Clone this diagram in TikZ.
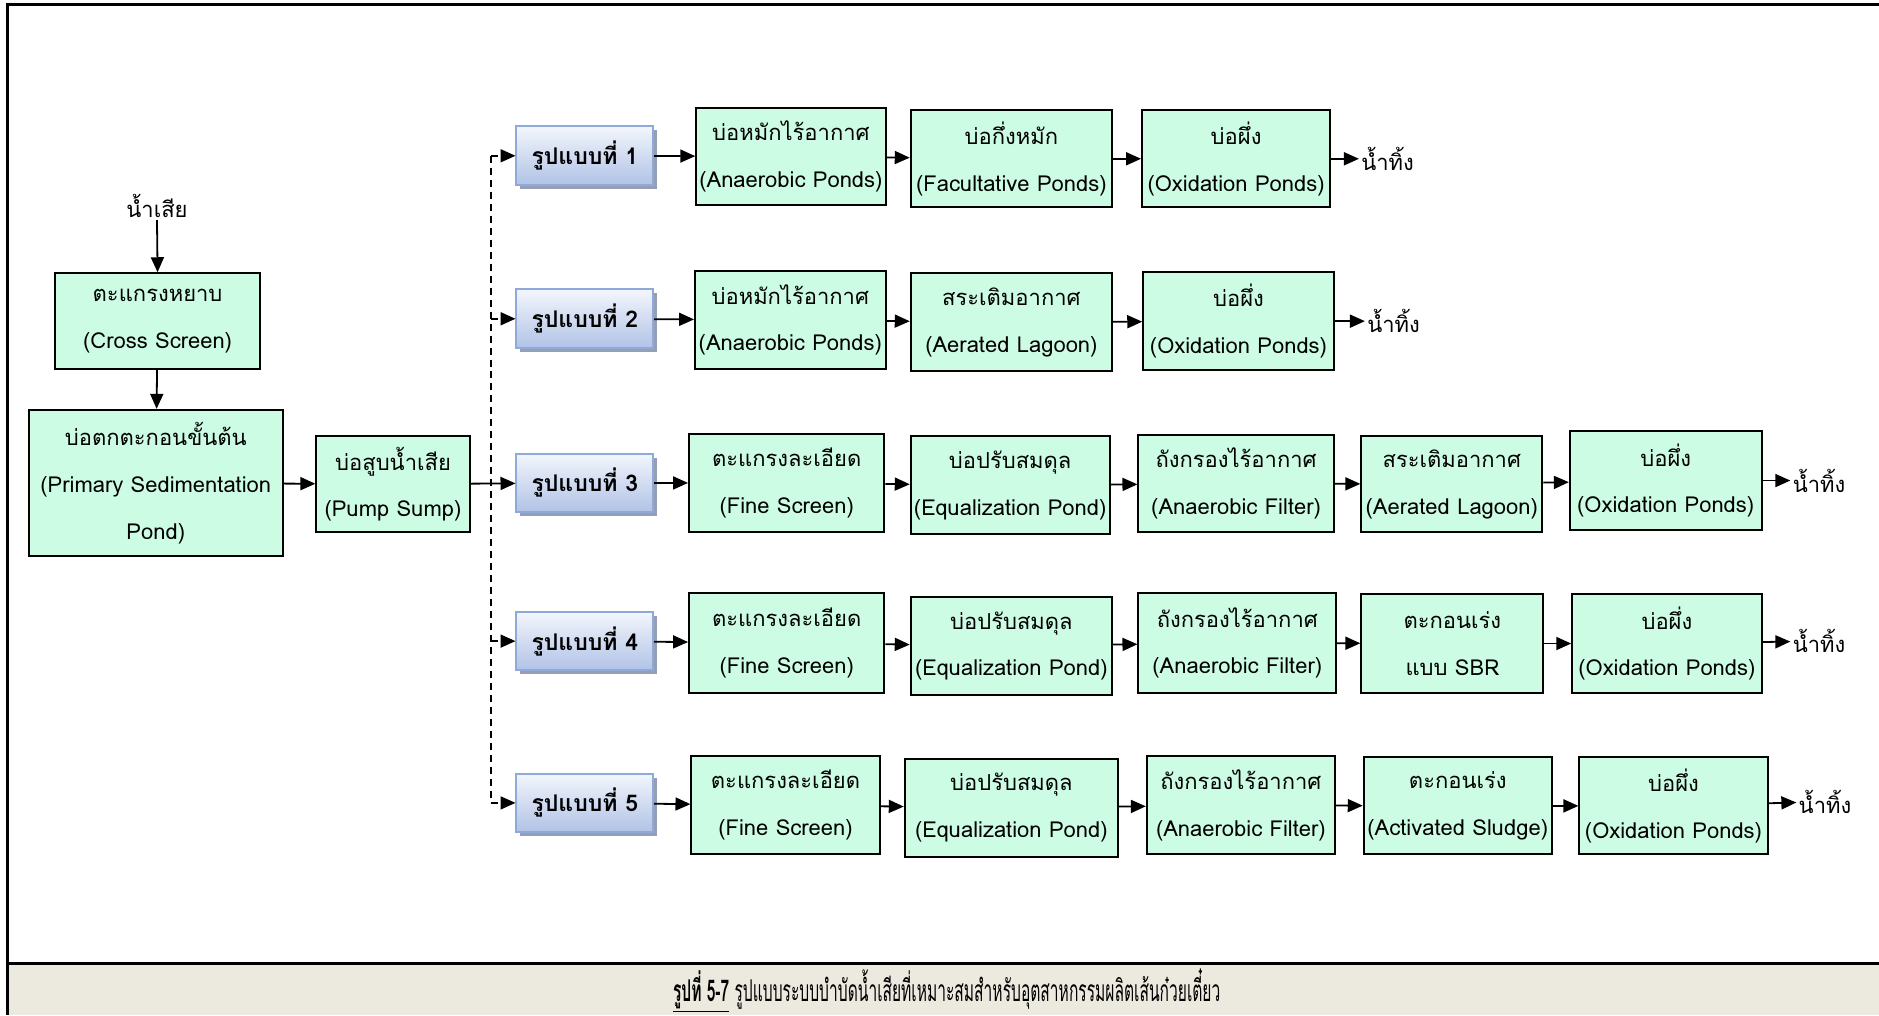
\documentclass[tikz,border=0pt]{standalone}
\usepackage{fontspec}
\usepackage{graphicx}
\setmainfont[Script=Thai]{Loma}
\usetikzlibrary{arrows.meta,shadows}

\definecolor{pond}{RGB}{205,252,228}
\definecolor{captionbg}{RGB}{236,233,223}
\definecolor{patborder}{RGB}{141,170,219}
\definecolor{pattop}{RGB}{243,246,252}
\definecolor{patbot}{RGB}{176,194,230}
\definecolor{patshadow}{RGB}{150,158,182}

\tikzset{
  box/.style={draw=black, line width=1pt, fill=pond, align=center, inner sep=0pt,
    font=\fontsize{11}{23.4}\selectfont},
  sz/.style 2 args={minimum width=#1*0.6pt, minimum height=#2*0.6pt},
  pat/.style={draw=patborder, line width=1pt, top color=pattop, bottom color=patbot,
    font=\bfseries\fontsize{11.5}{13}\selectfont, inner sep=0pt,
    minimum width=114*0.6pt, minimum height=49*0.6pt,
    drop shadow={shadow xshift=2pt, shadow yshift=-2pt, fill=patshadow, opacity=1}},
  lbl/.style={inner sep=1pt, font=\fontsize{11}{13}\selectfont},
  arr/.style={line width=0.9pt, -{Triangle[length=7.5pt,width=6.5pt]}},
  dsh/.style={line width=0.9pt, dash pattern=on 3.5pt off 2.5pt},
  frame/.style={line width=1.6pt, black}
}

\begin{document}
\begin{tikzpicture}[x=0.6pt, y=-0.6pt]
\useasboundingbox (0,0) rectangle (1568,847);
\clip (0,0) rectangle (1568,847);

% page frame and caption band
\fill[captionbg] (6,804) rectangle (1568,847);
\draw[frame] (1568,4) -- (6,4) -- (6,847);
\draw[frame] (6,804) -- (1568,804);

% incoming line
\node[lbl] (nam) at (131,172) {น้ำเสีย};
\node[box, sz={171}{80}] (cross) at (131.5,268) {ตะแกรงหยาบ\\(Cross Screen)};
\node[box, sz={212}{122}] (prim) at (130,403) {บ่อตกตะกอนขั้นต้น\\(Primary Sedimentation\\Pond)};
\node[box, sz={128}{80}] (pump) at (328,404) {บ่อสูบน้ำเสีย\\(Pump Sump)};

\draw[arr] (nam.south) -- (cross.north);
\draw[arr] (cross) -- (prim);
\draw[arr] (prim) -- (pump);

% treatment options
\node[pat] (p1) at (488,130) {รูปแบบที่ 1};
\node[pat] (p2) at (488,266) {รูปแบบที่ 2};
\node[pat] (p3) at (488,403) {รูปแบบที่ 3};
\node[pat] (p4) at (488,535) {รูปแบบที่ 4};
\node[pat] (p5) at (488,670) {รูปแบบที่ 5};

\coordinate (j1) at (410,130);
\coordinate (j2) at (410,266);
\coordinate (j4) at (410,535);
\coordinate (j5) at (410,670);
\draw[dsh] (j1) -- (j5);
\draw[arr] (pump) -- (p3);
\draw[dsh, arr] (j1) -- (p1);
\draw[dsh, arr] (j2) -- (p2);
\draw[dsh, arr] (j4) -- (p4);
\draw[dsh, arr] (j5) -- (p5);

% option 1
\node[box, sz={158}{81}] (a1) at (660,130.5) {บ่อหมักไร้อากาศ\\(Anaerobic Ponds)};
\node[box, sz={168}{81}] (b1) at (844,132.5) {บ่อกึ่งหมัก\\(Facultative Ponds)};
\node[box, sz={157}{81}] (c1) at (1031.5,132.5) {บ่อผึ่ง\\(Oxidation Ponds)};
\node[lbl, anchor=west] (o1) at (1134,132.5) {น้ำทิ้ง};
\draw[arr] (p1) -- (a1);
\draw[arr] (a1) -- (b1);
\draw[arr] (b1) -- (c1);
\draw[arr] (c1) -- (o1);

% option 2
\node[box, sz={159}{82}] (a2) at (659.5,267) {บ่อหมักไร้อากาศ\\(Anaerobic Ponds)};
\node[box, sz={168}{82}] (b2) at (844,269) {สระเติมอากาศ\\(Aerated Lagoon)};
\node[box, sz={159}{82}] (c2) at (1033.5,268) {บ่อผึ่ง\\(Oxidation Ponds)};
\node[lbl, anchor=west] (o2) at (1139,268) {น้ำทิ้ง};
\draw[arr] (p2) -- (a2);
\draw[arr] (a2) -- (b2);
\draw[arr] (b2) -- (c2);
\draw[arr] (c2) -- (o2);

% option 3
\node[box, sz={163}{82}] (a3) at (656.5,403) {ตะแกรงละเอียด\\(Fine Screen)};
\node[box, sz={166}{82}] (b3) at (843,405) {บ่อปรับสมดุล\\(Equalization Pond)};
\node[box, sz={163}{81}] (c3) at (1031.5,403.5) {ถังกรองไร้อากาศ\\(Anaerobic Filter)};
\node[box, sz={151}{80}] (d3) at (1211.5,404) {สระเติมอากาศ\\(Aerated Lagoon)};
\node[box, sz={160}{82}] (e3) at (1390,401) {บ่อผึ่ง\\(Oxidation Ponds)};
\node[lbl, anchor=west] (o3) at (1494,401) {น้ำทิ้ง};
\draw[arr] (p3) -- (a3);
\draw[arr] (a3) -- (b3);
\draw[arr] (b3) -- (c3);
\draw[arr] (c3) -- (d3);
\draw[arr] (d3) -- (e3);
\draw[arr] (e3) -- (o3);

% option 4
\node[box, sz={163}{83}] (a4) at (656.5,536.5) {ตะแกรงละเอียด\\(Fine Screen)};
\node[box, sz={168}{82}] (b4) at (844,539) {บ่อปรับสมดุล\\(Equalization Pond)};
\node[box, sz={165}{83}] (c4) at (1032.5,536.5) {ถังกรองไร้อากาศ\\(Anaerobic Filter)};
\node[box, sz={152}{82}] (d4) at (1212,537) {ตะกอนเร่ง\\แบบ SBR};
\node[box, sz={158}{82}] (e4) at (1391,537) {บ่อผึ่ง\\(Oxidation Ponds)};
\node[lbl, anchor=west] (o4) at (1494,535) {น้ำทิ้ง};
\draw[arr] (p4) -- (a4);
\draw[arr] (a4) -- (b4);
\draw[arr] (b4) -- (c4);
\draw[arr] (c4) -- (d4);
\draw[arr] (d4) -- (e4);
\draw[arr] (e4) -- (o4);

% option 5
\node[box, sz={157}{82}] (a5) at (655.5,672) {ตะแกรงละเอียด\\(Fine Screen)};
\node[box, sz={178}{82}] (b5) at (844,674) {บ่อปรับสมดุล\\(Equalization Pond)};
\node[box, sz={157}{82}] (c5) at (1035.5,672) {ถังกรองไร้อากาศ\\(Anaerobic Filter)};
\node[box, sz={157}{81}] (d5) at (1216.5,672.5) {ตะกอนเร่ง\\(Activated Sludge)};
\node[box, sz={157}{81}] (e5) at (1396.5,672.5) {บ่อผึ่ง\\(Oxidation Ponds)};
\node[lbl, anchor=west] (o5) at (1499,669) {น้ำทิ้ง};
\draw[arr] (p5) -- (a5);
\draw[arr] (a5) -- (b5);
\draw[arr] (b5) -- (c5);
\draw[arr] (c5) -- (d5);
\draw[arr] (d5) -- (e5);
\draw[arr] (e5) -- (o5);

% caption, set in a narrow face
\node[lbl, font=\fontsize{15}{17}\selectfont] (cap) at (790,827)
  {\scalebox{0.52}[1]{\underline{\textbf{รูปที่ 5-7}} รูปแบบระบบบำบัดน้ำเสียที่เหมาะสมสำหรับอุตสาหกรรมผลิตเส้นก๋วยเตี๋ยว}};
\end{tikzpicture}
\end{document}
